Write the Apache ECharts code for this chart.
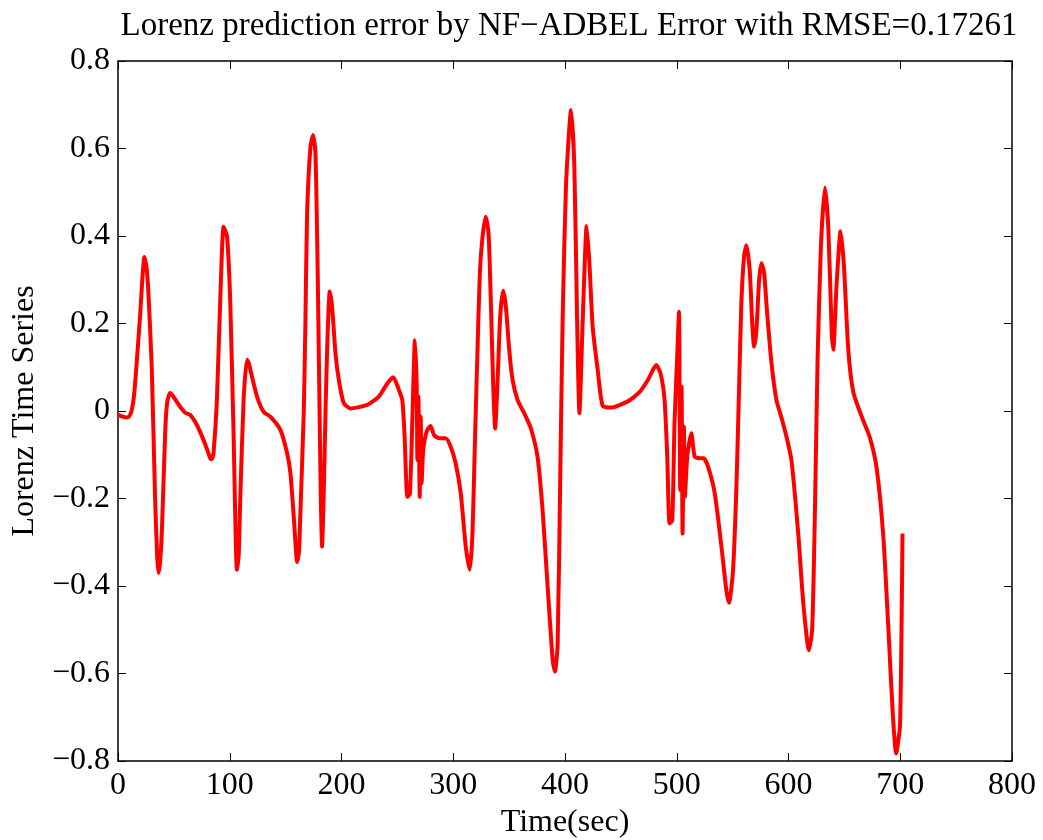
<!DOCTYPE html>
<html>
<head>
<meta charset="utf-8">
<script src="https://cdn.jsdelivr.net/npm/echarts@6/dist/echarts.min.js"></script>
<style>
html, body { margin:0; padding:0; background:#fff; }
#errChart { width:1043px; height:840px; }
</style>
</head>
<body>
<div id="errChart"></div>
<script>
// time axis (sec) and prediction error
var timeSec = [
  0, 3, 7.8, 10, 12.3, 14.5, 16.7, 19.7, 22, 23.6, 25.5, 27.2, 30.2, 33.2, 35, 36.2, 37.5, 39.2, 42.2, 44,
  46.6, 49, 52.6, 57, 60.1, 64.6, 70.6, 76.5, 80, 82.5, 84, 85.5, 88.5, 91.5, 94.5, 97.5, 100.4, 103.4, 106.4, 108,
  109.4, 112.4, 115.4, 117, 119.9, 124.4, 130.3, 136.3, 145.3, 151.3, 154.3, 157.5, 160.3, 162, 163.2, 166.2, 167.7, 169.2, 172.2, 174.6,
  176.7, 178.5, 180, 181.5, 182.6, 184, 185.7, 187.5, 189.5, 191.6, 194.6, 197.6, 202, 208, 223, 233.4, 241, 246.4, 251.4, 254.4,
  256.5, 258.9, 261.2, 263.4, 265.7, 267.3, 267.9, 268.8, 270, 270.9, 271.7, 272.9, 274.4, 276.8, 279.8, 282.8, 287.3, 293.3, 297.8, 302.2,
  306.7, 311.2, 314.8, 317.2, 319.6, 321.7, 323.8, 326.2, 329.1, 331.6, 333.6, 335.7, 337.5, 339.6, 342, 344.7, 347.1, 350.1, 353.1, 357.6,
  363.5, 369.5, 375.5, 380, 384.5, 389, 391, 393.4, 395.8, 397.9, 400.9, 405.4, 408.4, 410.8, 412.9, 415.9, 419.4, 421.8, 424.8, 429.2,
  433.7, 441.2, 456.2, 466.6, 474.2, 481.6, 485.5, 489.1, 491.5, 493.5, 496, 498, 500.4, 502, 503.1, 504.3, 505.2, 506.4, 507.3, 509.4,
  513, 516, 520.4, 524, 528, 534, 540, 544.4, 546.8, 550.4, 553.4, 555.8, 557.8, 560.2, 562.3, 565.3, 567.4, 569.2, 571.3, 573.7,
  575.8, 578.2, 580.9, 584.8, 589.2, 593.7, 598.2, 602.7, 608.7, 613.2, 618.2, 621.2, 623.6, 626, 629, 632.6, 635.6, 638.6, 640.1, 643,
  646.6, 649.6, 653.5, 658, 665.5, 672.9, 678.9, 684.9, 689.4, 693.3, 696.3, 699.8, 702
];
var errorVals = [
  -0.009, -0.012, -0.015, -0.012, 0.002, 0.04, 0.11, 0.215, 0.31, 0.352, 0.33, 0.27, 0.10, -0.20, -0.33, -0.37, -0.35, -0.28, -0.05, 0.02,
  0.041, 0.035, 0.021, 0.005, -0.004, -0.009, -0.032, -0.066, -0.09, -0.108, -0.11, -0.096, 0.025, 0.254, 0.421, 0.40, 0.254, -0.05, -0.363, -0.33,
  -0.20, 0.025, 0.117, 0.11, 0.078, 0.033, -0.002, -0.013, -0.043, -0.096, -0.142, -0.25, -0.345, -0.32, -0.234, -0.005, 0.2, 0.45, 0.604, 0.631,
  0.589, 0.35, 0.07, -0.2, -0.31, -0.2, 0.0, 0.17, 0.273, 0.238, 0.132, 0.071, 0.018, 0.006, 0.014, 0.033, 0.063, 0.077, 0.048, 0.025,
  -0.059, -0.196, -0.19, -0.021, 0.162, 0.056, -0.112, 0.033, -0.196, -0.013, -0.165, -0.097, -0.066, -0.043, -0.034, -0.055, -0.062, -0.062, -0.082, -0.12,
  -0.188, -0.31, -0.363, -0.28, -0.051, 0.139, 0.315, 0.398, 0.444, 0.406, 0.254, 0.063, -0.04, 0.063, 0.216, 0.275, 0.238, 0.139, 0.071, 0.025,
  -0.005, -0.04, -0.106, -0.229, -0.403, -0.57, -0.596, -0.535, -0.141, 0.21, 0.516, 0.688, 0.556, 0.21, -0.005, 0.21, 0.423, 0.34, 0.191, 0.095,
  0.012, 0.008, 0.022, 0.043, 0.071, 0.105, 0.086, 0.025, -0.104, -0.257, -0.25, -0.028, 0.124, 0.227, -0.18, 0.056, -0.28, -0.036, -0.196, -0.104,
  -0.051, -0.104, -0.108, -0.108, -0.127, -0.188, -0.31, -0.41, -0.438, -0.363, -0.173, 0.056, 0.246, 0.353, 0.379, 0.322, 0.208, 0.147, 0.185, 0.299,
  0.338, 0.315, 0.223, 0.109, 0.025, -0.015, -0.059, -0.114, -0.28, -0.438, -0.547, -0.499, -0.236, 0.114, 0.376, 0.511, 0.42, 0.184, 0.14, 0.288,
  0.411, 0.332, 0.14, 0.043, -0.013, -0.061, -0.131, -0.289, -0.499, -0.691, -0.783, -0.717, -0.28
];

var serif = '"Liberation Serif", "DejaVu Serif", serif';
var minusFmt = function (v) { return String(v).replace('-', '\u2212'); };

var points = [];
for (var i = 0; i < timeSec.length; i++) {
  points.push([timeSec[i], errorVals[i]]);
}

var boxAxis = {
  axisLine: { show: true, onZero: false, lineStyle: { color: '#000', width: 1.5 } },
  axisTick: { show: true, inside: true, length: 8, lineStyle: { color: '#000', width: 1 } },
  splitLine: { show: false }
};

var option = {
  backgroundColor: '#fff',
  animation: false,
  title: {
    text: 'Lorenz prediction error by NF\u2212ADBEL Error with RMSE=0.17261',
    left: 564, textAlign: 'center', top: 5,
    textStyle: { fontFamily: serif, fontSize: 33, fontWeight: 'normal', color: '#000' }
  },
  grid: { left: 118, right: 31, top: 61, bottom: 79, outerBoundsMode: 'none' },
  xAxis: [
    Object.assign({
      type: 'value', min: 0, max: 800, interval: 100, position: 'bottom',
      name: 'Time(sec)', nameLocation: 'middle', nameGap: 40,
      nameTextStyle: { fontFamily: serif, fontSize: 32, color: '#000' },
      axisLabel: { fontFamily: serif, fontSize: 32, color: '#000', margin: 9 }
    }, boxAxis),
    Object.assign({
      type: 'value', min: 0, max: 800, interval: 100, position: 'top',
      axisLabel: { show: false }
    }, boxAxis)
  ],
  yAxis: [
    Object.assign({
      type: 'value', min: -0.8, max: 0.8, interval: 0.2, position: 'left',
      name: 'Lorenz Time Series', nameLocation: 'middle', nameGap: 76, nameRotate: 90,
      nameTextStyle: { fontFamily: serif, fontSize: 32, color: '#000' },
      axisLabel: { fontFamily: serif, fontSize: 32, color: '#000', margin: 8, formatter: minusFmt }
    }, boxAxis),
    Object.assign({
      type: 'value', min: -0.8, max: 0.8, interval: 0.2, position: 'right',
      axisLabel: { show: false }
    }, boxAxis)
  ],
  series: [{
    type: 'line',
    data: points,
    showSymbol: false,
    smooth: 0.2,
    lineStyle: { color: '#ff0000', width: 4 },
    itemStyle: { color: '#ff0000' }
  }]
};

var errChart = echarts.init(document.getElementById('errChart'));
errChart.setOption(option);
</script>
</body>
</html>
